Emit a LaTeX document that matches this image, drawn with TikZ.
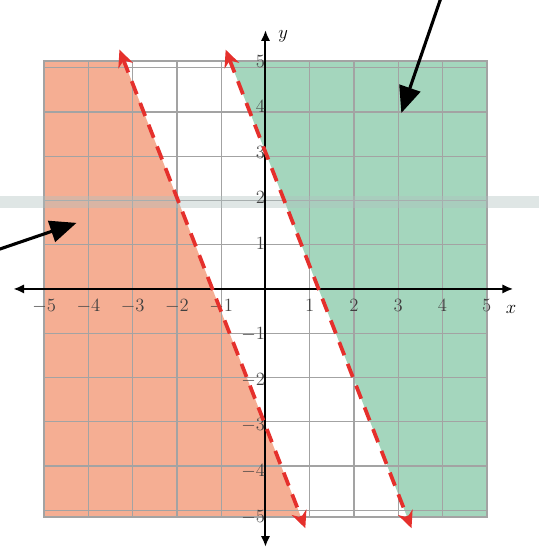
\documentclass[tikz,border=0pt]{standalone}
\usepackage{tikz}
\usetikzlibrary{arrows.meta, positioning, calc}
\definecolor{shorange}{HTML}{F5AE93}
\definecolor{shgreen}{HTML}{A4D6BD}
\definecolor{lred}{HTML}{E5302C}
\definecolor{gridgray}{HTML}{A3A3A3}
\definecolor{bandgray}{HTML}{AFC0BF}

\begin{document}
\begin{tikzpicture}[
  x=1cm, y=1.03cm,
  gridln/.style={draw=gridgray, line width=0.8pt},
  axisln/.style={line width=1.3pt, {Latex[length=7pt,width=6pt]}-{Latex[length=7pt,width=6pt]}},
  bound/.style={draw=lred, line width=2.4pt, dash pattern=on 9pt off 6pt,
                {Stealth[length=11pt,width=10pt]}-{Stealth[length=11pt,width=10pt]}},
  pointer/.style={line width=2pt, -{Triangle[length=17pt,width=14pt]}},
  ticklbl/.style={font=\large, text=black!75, inner sep=1pt},
]
  \useasboundingbox (-6.0,-5.75) rectangle (6.19,6.34);

  % shaded half-planes
  \fill[shorange] (-5,-5) -- (-5,5) -- (-3.2,5) -- (0.8,-5) -- cycle;
  \fill[shgreen] (-0.8,5) -- (5,5) -- (5,-5) -- (3.2,-5) -- cycle;

  % grid
  \draw[gridln] (-5,-5) grid (5,5);
  \draw[gridln, line width=1.2pt] (-5,-5) rectangle (5,5);

  % scan band
  \fill[bandgray, opacity=0.4] (-6.0,1.78) rectangle (6.19,2.03);

  % axes
  \coordinate (xl) at (-5.7,0);
  \coordinate (xr) at (5.6,0);
  \coordinate (yb) at (0,-5.66);
  \coordinate (yt) at (0,5.68);
  \draw[axisln] (xl) -- (xr);
  \draw[axisln] (yb) -- (yt);
  \node[font=\large\itshape] (xname) at (5.55,-0.45) {$x$};
  \node[font=\large\itshape] (yname) at (0.4,5.55) {$y$};

  \foreach \v [count=\i] in {-5,-4,-3,-2,-1,1,2,3,4,5} {
    \node[ticklbl] (xt\i) at (\v,-0.37) {$\v$};
    \node[ticklbl, anchor=east] (yt\i) at (0.03,\v) {$\v$};
  }

  % boundary lines y = -2.5x - 3 and y = -2.5x + 3
  \coordinate (la) at (-3.3,5.25);
  \coordinate (lb) at (0.9,-5.25);
  \coordinate (ra) at (-0.9,5.25);
  \coordinate (rb) at (3.3,-5.25);
  \draw[bound] (la) -- (lb);
  \draw[bound] (ra) -- (rb);

  % pointers
  \coordinate (gsrc) at (3.97,6.4);
  \coordinate (gtip) at (3.07,3.86);
  \coordinate (osrc) at (-6.05,0.86);
  \coordinate (otip) at (-4.27,1.45);
  \draw[pointer] (gsrc) -- (gtip);
  \draw[pointer] (osrc) -- (otip);
\end{tikzpicture}
\end{document}
